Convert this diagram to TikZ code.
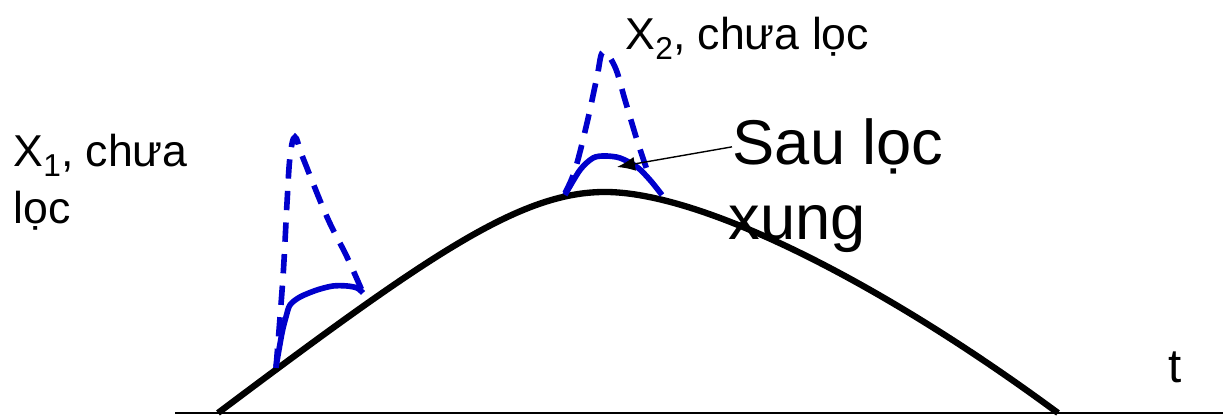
\documentclass[tikz,border=0pt]{standalone}
\usepackage{fontspec}
\setmainfont{Liberation Sans}
\usetikzlibrary{arrows.meta}
\definecolor{pulseblue}{HTML}{0000CC}
\newcommand{\lowsub}[1]{\raisebox{-3pt}{\fontsize{9}{9}\selectfont #1}}

\begin{document}
\begin{tikzpicture}[
  lbl/.style={inner sep=0pt,font=\fontsize{12.7}{16.4}\selectfont},
  biglbl/.style={inner sep=0pt,font=\fontsize{18}{21}\selectfont},
  rawpulse/.style={pulseblue,line width=1.6pt,dash pattern=on 5.5pt off 3.5pt},
  filtpulse/.style={pulseblue,line width=1.6pt,line join=round}]
\useasboundingbox (0,0) rectangle (12.23,4.20);
\draw[line width=0.7pt] (1.75,0.07)--(12.23,0.07);
\draw[line width=1.8pt] (2.18,0.07) .. controls (4.30,1.66) and (5.20,2.28) .. (6.05,2.28)
  .. controls (7.00,2.28) and (8.78,1.40) .. (10.58,0.07);
% xung X1
\draw[rawpulse] plot[smooth,tension=0.6] coordinates {(2.76,0.52) (2.83,1.43) (2.87,2.17) (2.90,2.63) (2.95,2.83) (3.03,2.62) (3.27,2.03) (3.47,1.63) (3.63,1.27)};
\draw[filtpulse] plot[smooth] coordinates {(2.76,0.53) (2.82,0.87) (2.86,1.03) (2.90,1.15) (3.00,1.23) (3.17,1.30) (3.33,1.34) (3.47,1.34) (3.57,1.32) (3.63,1.27)};
% xung X2
\draw[rawpulse] plot[smooth,tension=0.6] coordinates {(5.65,2.27) (5.75,2.50) (5.87,2.97) (5.97,3.43) (6.03,3.68) (6.15,3.53) (6.25,3.20) (6.37,2.80) (6.47,2.50)};
\draw[filtpulse] plot[smooth] coordinates {(5.65,2.25) (5.80,2.50) (5.93,2.62) (6.05,2.64) (6.20,2.62) (6.37,2.53) (6.50,2.40) (6.62,2.25)};
\node[lbl,anchor=north west,align=left] (x1lbl) at (0.13,2.87) {X\lowsub{1}, chưa\\lọc};
\node[lbl,anchor=north west] (x2lbl) at (6.25,4.04) {X\lowsub{2}, chưa lọc};
\node[biglbl,anchor=base west] (saulbl) at (7.32,2.55) {Sau lọc};
\node[biglbl,anchor=base west] (xunglbl) at (7.28,1.80) {xung};
\node[lbl,font=\fontsize{13.5}{16}\selectfont,anchor=base west] (tlbl) at (11.68,0.37) {t};
\coordinate (arctip) at (6.17,2.53);
\draw[-{Latex[length=1.8mm,width=1.4mm]},line width=0.4pt] (saulbl.west) -- (arctip);
\end{tikzpicture}
\end{document}
